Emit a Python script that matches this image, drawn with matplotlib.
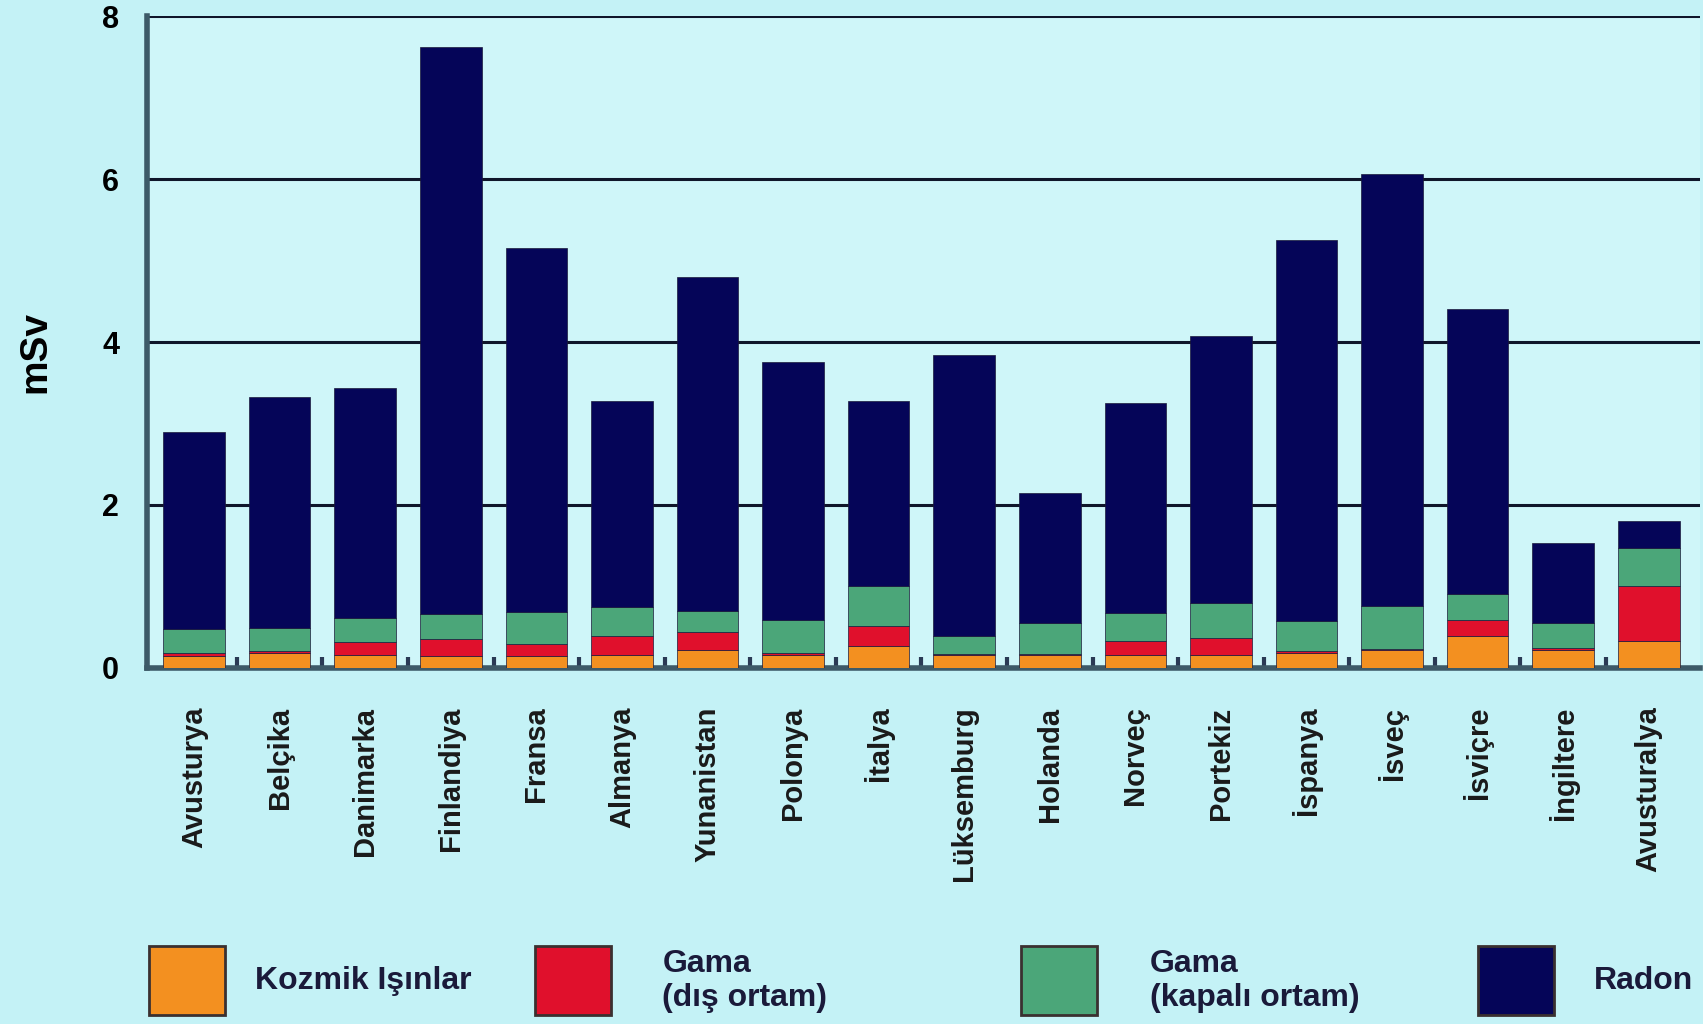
import matplotlib
matplotlib.use("Agg")
import matplotlib.pyplot as plt
from matplotlib.patches import Rectangle
import numpy as np

plt.rcParams['font.family'] = ['Liberation Sans', 'DejaVu Sans']

countries = ['Avusturya', 'Belçika', 'Danimarka', 'Finlandiya', 'Fransa', 'Almanya',
             'Yunanistan', 'Polonya', 'İtalya', 'Lüksemburg', 'Holanda', 'Norveç',
             'Portekiz', 'İspanya', 'İsveç', 'İsviçre', 'İngiltere', 'Avusturalya']

# mSv values
cosmic = [0.14, 0.18, 0.16, 0.14, 0.14, 0.16, 0.22, 0.16, 0.27, 0.16, 0.16, 0.16,
          0.15, 0.18, 0.22, 0.39, 0.22, 0.33]
gamma_out = [0.04, 0.02, 0.15, 0.21, 0.15, 0.23, 0.22, 0.02, 0.24, 0.01, 0.01, 0.17,
             0.22, 0.02, 0.01, 0.20, 0.02, 0.67]
gamma_in = [0.29, 0.29, 0.30, 0.31, 0.39, 0.35, 0.26, 0.41, 0.49, 0.22, 0.38, 0.34,
            0.42, 0.37, 0.53, 0.31, 0.31, 0.47]
total = [2.89, 3.32, 3.44, 7.63, 5.15, 3.28, 4.80, 3.75, 3.28, 3.84, 2.15, 3.25,
         4.07, 5.25, 6.07, 4.41, 1.53, 1.80]
radon = [t - a - b - c for t, a, b, c in zip(total, cosmic, gamma_out, gamma_in)]

series = [cosmic, gamma_out, gamma_in, radon]
colors = ['#f39020', '#e0102c', '#4ba679', '#050558']
labels = ['Kozmik Işınlar', 'Gama\n(dış ortam)', 'Gama\n(kapalı ortam)', 'Radon']

fig = plt.figure(figsize=(17.03, 10.24), dpi=100)
fig.patch.set_facecolor('#c4f2f6')
ax = fig.add_axes([0.0863, 0.348, 0.912, 0.636])
ax.set_facecolor('#cff6f9')

x = np.arange(len(countries))
bottom = np.zeros(len(countries))
for vals, col in zip(series, colors):
    ax.bar(x, vals, 0.72, bottom=bottom, color=col, edgecolor='#1a1a3a',
           linewidth=0.5, zorder=3)
    bottom += np.array(vals)

ax.set_xlim(-0.55, 17.6)
ax.set_ylim(0, 8)
ax.set_yticks([0, 2, 4, 6, 8])
ax.set_yticklabels(['0', '2', '4', '6', '8'], fontsize=22, fontweight='bold')
ax.tick_params(axis='y', length=0, pad=20)
ax.yaxis.grid(True, color='#10162a', linewidth=2.2, zorder=1)
ax.set_ylabel('mSv', fontsize=28, fontweight='bold')
ax.yaxis.set_label_coords(-0.06, 0.485)

ax.set_xticks(x)
ax.set_xticklabels(countries, rotation=90, fontsize=21, fontweight='bold',
                   color='#1a1a1a')
ax.tick_params(axis='x', length=0, pad=28)
ax.set_xticks(x[:-1] + 0.5, minor=True)
ax.tick_params(axis='x', which='minor', direction='in', length=8, width=3,
               color='#2a3a55')

for side in ['top', 'right']:
    ax.spines[side].set_visible(False)
for side in ['left', 'bottom']:
    ax.spines[side].set_color('#3d5a68')
    ax.spines[side].set_linewidth(4)

# legend drawn along the bottom
patch_x = [0.0875, 0.314, 0.5995, 0.868]
text_x = [0.150, 0.389, 0.675, 0.936]
for px, tx, col, lab in zip(patch_x, text_x, colors, labels):
    fig.add_artist(Rectangle((px, 0.009), 0.0446, 0.067, transform=fig.transFigure,
                             facecolor=col, edgecolor='#3a3030', linewidth=2))
    fig.text(tx, 0.042, lab, fontsize=23, fontweight='bold', va='center',
             ha='left', color='#1a1a3a', linespacing=1.15)

fig.savefig('out.png', dpi=100, facecolor=fig.get_facecolor())
